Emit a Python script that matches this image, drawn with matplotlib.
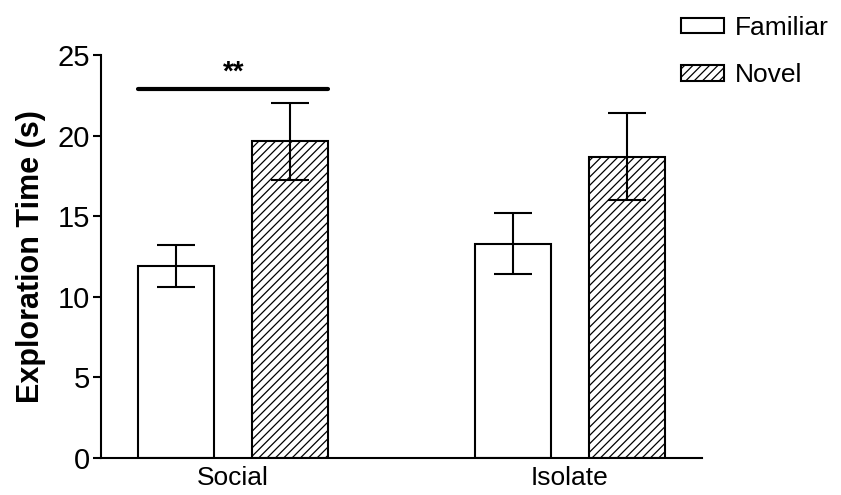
import numpy as np
import matplotlib
matplotlib.use("Agg")
import matplotlib.pyplot as plt

groups = ["Social", "Isolate"]
conditions = ["Familiar", "Novel"]
familiar_mean = [11.9, 13.3]
familiar_err = [1.3, 1.9]
novel_mean = [19.65, 18.7]
novel_err = [2.4, 2.7]
sig_label = "**"
sig_y = 22.9

plt.rcParams['font.family'] = ['Liberation Sans', 'DejaVu Sans']
plt.rcParams['hatch.linewidth'] = 0.9

fig = plt.figure(figsize=(8.41, 4.95), dpi=100)
ax = fig.add_axes([0.120, 0.0747, 0.715, 0.8143])

centers = np.array([0.75, 5.18])
offset = 0.75
width = 1.0
err_kw = dict(ecolor='black', elinewidth=1.5, capsize=13.5, capthick=1.5)

ax.bar(centers - offset, familiar_mean, width, yerr=familiar_err, color='white',
       edgecolor='black', linewidth=1.5, label=conditions[0], error_kw=err_kw, zorder=2)
ax.bar(centers + offset, novel_mean, width, yerr=novel_err, color='white',
       edgecolor='black', linewidth=1.5, hatch='////', label=conditions[1], error_kw=err_kw, zorder=2)

# significance bar over Social group
ax.plot([centers[0] - offset - 0.5, centers[0] + offset + 0.5], [sig_y, sig_y],
        color='black', lw=3, solid_capstyle='round', clip_on=False)
ax.text(centers[0], sig_y + 0.2, sig_label, ha='center', va='bottom',
        fontsize=20, fontweight='bold')

ax.set_xlim(-0.99, 6.92)
ax.set_ylim(0, 25)
ax.set_yticks([0, 5, 10, 15, 20, 25])
ax.set_xticks(centers)
ax.set_xticklabels(groups)
ax.tick_params(axis='x', length=0, labelsize=19, pad=6)
ax.tick_params(axis='y', length=6, width=1.5, labelsize=21, pad=2)
ax.set_ylabel("Exploration Time (s)", fontsize=22, fontweight='bold', labelpad=8)

for s in ['top', 'right']:
    ax.spines[s].set_visible(False)
for s in ['left', 'bottom']:
    ax.spines[s].set_linewidth(1.5)

fig.legend(loc='upper left', bbox_to_anchor=(0.7905, 1.0), frameon=False,
           fontsize=19, handlelength=1.65, handleheight=0.55, handletextpad=0.4,
           labelspacing=0.88, borderaxespad=0.2)

fig.savefig("out.png", dpi=100)
